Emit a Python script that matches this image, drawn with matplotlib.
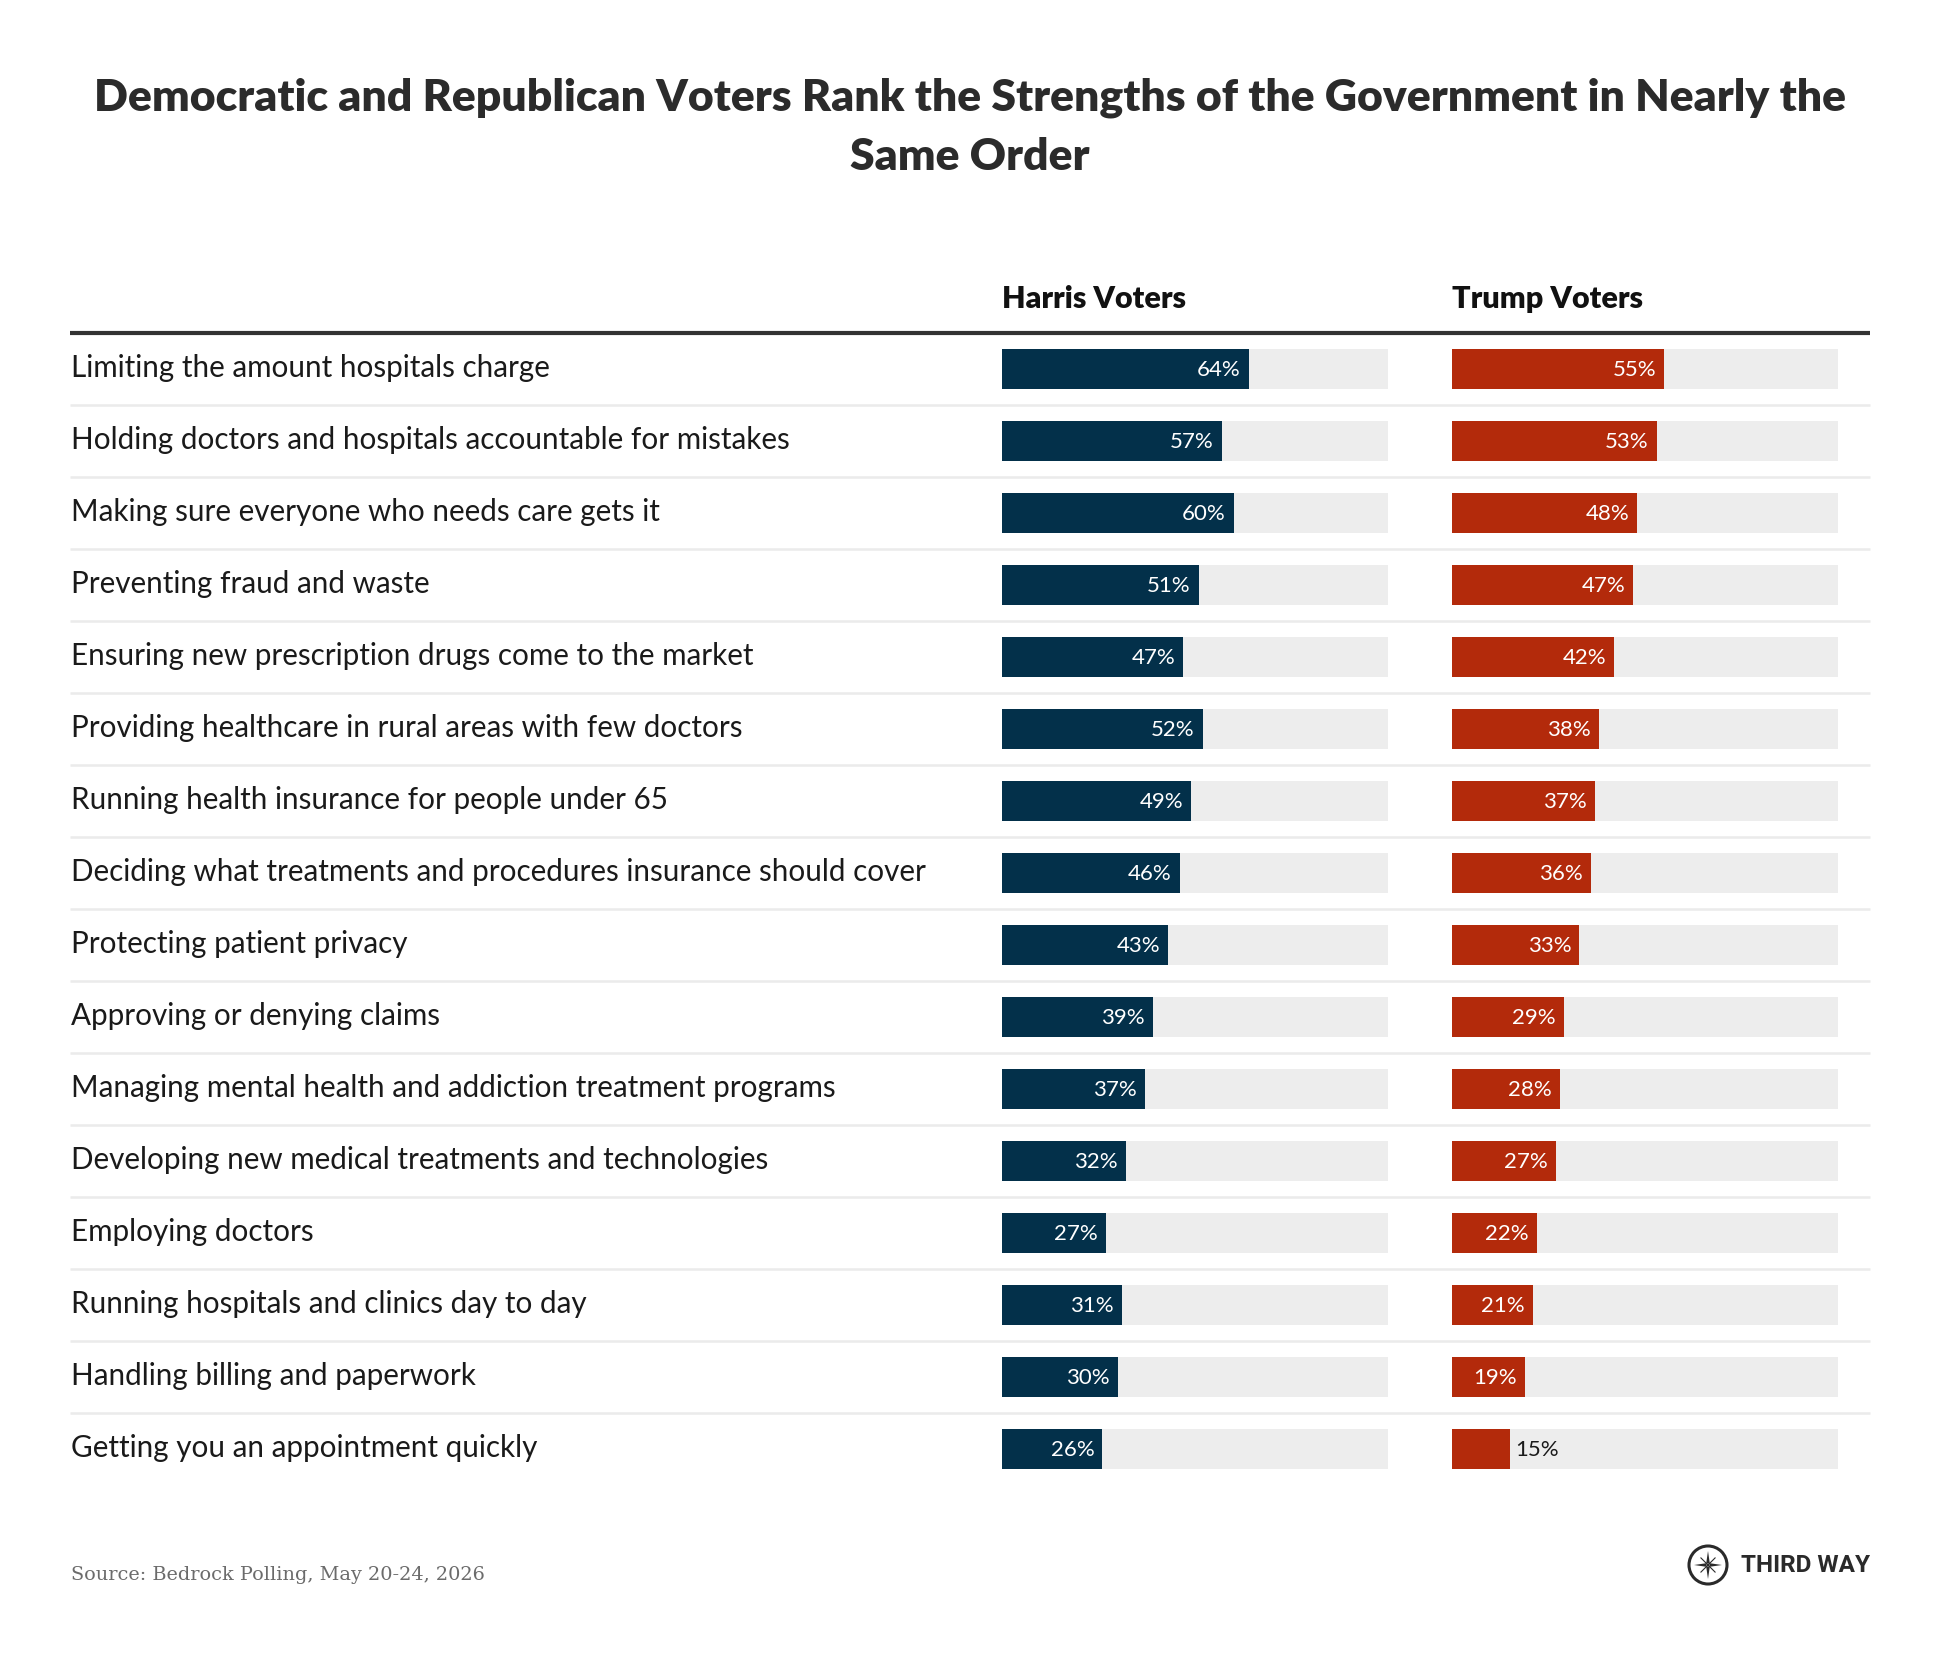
import numpy as np
import matplotlib.pyplot as plt
from matplotlib.patches import Circle, Polygon

categories = [
    "Limiting the amount hospitals charge",
    "Holding doctors and hospitals accountable for mistakes",
    "Making sure everyone who needs care gets it",
    "Preventing fraud and waste",
    "Ensuring new prescription drugs come to the market",
    "Providing healthcare in rural areas with few doctors",
    "Running health insurance for people under 65",
    "Deciding what treatments and procedures insurance should cover",
    "Protecting patient privacy",
    "Approving or denying claims",
    "Managing mental health and addiction treatment programs",
    "Developing new medical treatments and technologies",
    "Employing doctors",
    "Running hospitals and clinics day to day",
    "Handling billing and paperwork",
    "Getting you an appointment quickly",
]
harris = [64, 57, 60, 51, 47, 52, 49, 46, 43, 39, 37, 32, 27, 31, 30, 26]
trump = [55, 53, 48, 47, 42, 38, 37, 36, 33, 29, 28, 27, 22, 21, 19, 15]
series_names = ["Harris Voters", "Trump Voters"]

title_lines = ["Democratic and Republican Voters Rank the Strengths of the Government in Nearly the",
               "Same Order"]
source = "Source: Bedrock Polling, May 20-24, 2026"

W, H = 1940, 1656
NAVY = "#03304a"
RED = "#b32a0b"
BG = "#ededed"
TXT = "#1a1a1a"

fig = plt.figure(figsize=(W / 100, H / 100), dpi=100)
fig.patch.set_facecolor("white")

# overlay axes in pixel coords
ov = fig.add_axes([0, 0, 1, 1])
ov.set_xlim(0, W)
ov.set_ylim(H, 0)
ov.axis("off")

n = len(categories)
top, row_h = 334, 72

for k, line in enumerate(title_lines):
    ov.text(W / 2, 110 + 60 * k, line, ha="center", va="baseline", fontsize=32,
            fontweight="heavy", family="Lato", color="#2b2b2b")

# header line and row separators
ov.plot([70, 1870], [334, 334], color="#333333", lw=3, solid_capstyle="butt")
for i in range(n - 1):
    y = top + row_h * (i + 1)
    ov.plot([70, 1870], [y, y], color="#ebebeb", lw=1.8, solid_capstyle="butt")

for i, c in enumerate(categories):
    ov.text(71, top + row_h * i + 36 + 7, c, ha="left", va="baseline", fontsize=21.3,
            family="Lato", color=TXT)

# bar panels
panels = [(1002, harris, NAVY, series_names[0]), (1452, trump, RED, series_names[1])]
for x0, vals, col, name in panels:
    ov.text(x0, 308, name, ha="left", va="baseline", fontsize=22, fontweight="heavy",
            family="Lato", color="#111111")
    ax = fig.add_axes([x0 / W, 1 - (top + row_h * n) / H, 386 / W, row_h * n / H])
    ax.set_xlim(0, 100)
    ax.set_ylim(n - 0.5, -0.5)
    ax.axis("off")
    y = np.arange(n)
    ax.barh(y, [100] * n, height=40 / 72, color=BG, linewidth=0)
    ax.barh(y, vals, height=40 / 72, color=col, linewidth=0)
    for yi, v in zip(y, vals):
        if v >= 17:
            ax.annotate(f"{v}%", (v, yi), xytext=(-5.8, -4.6), textcoords="offset points",
                        ha="right", va="baseline", fontsize=16, family="Lato", color="white")
        else:
            ax.annotate(f"{v}%", (v, yi), xytext=(3.6, -4.6), textcoords="offset points",
                        ha="left", va="baseline", fontsize=16, family="Lato", color=TXT)

# source
ov.text(71, 1580, source, ha="left", va="baseline", fontsize=13.9, family="DejaVu Serif",
        color="#6b6b6b")

# logo
cx, cy = 1708, 1566
ov.add_patch(Circle((cx, cy), 19, fill=False, ec="#2a2a2a", lw=2.2))
star = []
for k in range(8):
    a = np.pi / 2 * (k // 2) + (np.pi / 4 if k % 2 else 0)
    r = 14 if k % 2 == 0 else 2.5
    star.append((cx + r * np.cos(a), cy + r * np.sin(a)))
ov.add_patch(Polygon(star, closed=True, fc="#2a2a2a", ec="none"))
for k in range(4):
    a = np.pi / 4 + np.pi / 2 * k
    ov.plot([cx, cx + 10 * np.cos(a)], [cy, cy + 10 * np.sin(a)], color="#2a2a2a", lw=0.8)
ov.add_patch(Circle((cx, cy), 2, fc="white", ec="#2a2a2a", lw=0.6))
ov.text(1870, 1566, "THIRD WAY", ha="right", va="center", fontsize=17.5, fontweight="bold",
        family="Roboto", color="#2a2a2a")

plt.savefig("out.png", dpi=100)
